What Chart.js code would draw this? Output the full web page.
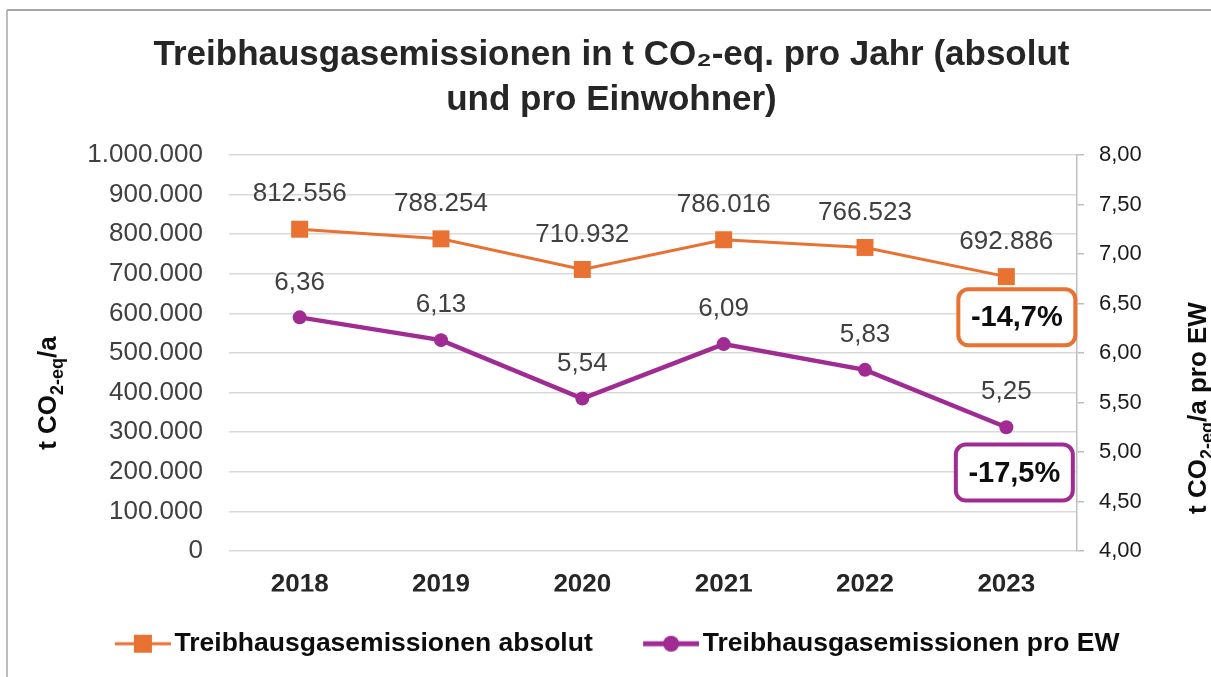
<!DOCTYPE html>
<html lang="de">
<head>
<meta charset="utf-8">
<title>Treibhausgasemissionen</title>
<script src="https://cdn.jsdelivr.net/npm/chart.js@4.4.1/dist/chart.umd.min.js"></script>
<style>
  html, body { margin: 0; padding: 0; background: #ffffff; }
  #wrap { position: relative; width: 1211px; height: 677px; }
</style>
</head>
<body>
<div id="wrap"><canvas id="c"></canvas></div>
<script>
// ---- data ----
const years = ['2018', '2019', '2020', '2021', '2022', '2023'];
const absolut = [812556, 788254, 710932, 786016, 766523, 692886];
const proEW = [6.36, 6.13, 5.54, 6.09, 5.83, 5.25];
const seriesNames = ['Treibhausgasemissionen absolut', 'Treibhausgasemissionen pro EW'];
const changeLabels = ['-14,7%', '-17,5%'];
const titleLines = ['Treibhausgasemissionen in t CO\u2082-eq. pro Jahr (absolut', 'und pro Einwohner)'];
const leftAxisTitle = [['t CO', false], ['2-eq', true], ['/a', false]];
const rightAxisTitle = [['t CO', false], ['2-eq', true], ['/a pro EW', false]];

// ---- styles ----
const FONT = "'Liberation Sans', Arial, sans-serif";
const ORANGE = '#E97132';
const PURPLE = '#A02B93';

function fmtThousands(v) {
  const s = Math.round(v).toString();
  return s.replace(/\B(?=(\d{3})+(?!\d))/g, '.');
}
function fmtDec(v) { return v.toFixed(2).replace('.', ','); }

// legend icons: line with marker (transparent margin on the left)
function makeIcon(color, lw, marker) {
  const off = 21;
  const cv = document.createElement('canvas');
  cv.width = 56 + off; cv.height = 22;
  const c = cv.getContext('2d');
  c.strokeStyle = color; c.lineWidth = lw;
  c.beginPath(); c.moveTo(off, 11); c.lineTo(off + 56, 11); c.stroke();
  c.fillStyle = color;
  if (marker === 'rect') { c.fillRect(off + 28 - 9, 11 - 9, 18, 18); }
  else { c.beginPath(); c.arc(off + 28, 11, 8, 0, Math.PI * 2); c.fill(); }
  return cv;
}
const legendIcons = [makeIcon(ORANGE, 3, 'rect'), makeIcon(PURPLE, 5, 'circle')];

function drawParts(ctx, parts, size, subSize) {
  let total = 0;
  const widths = parts.map(([t, sub]) => {
    ctx.font = 'bold ' + (sub ? subSize : size) + 'px ' + FONT;
    const w = ctx.measureText(t).width; total += w; return w;
  });
  let x = -total / 2;
  const base = size * 0.36;
  parts.forEach(([t, sub], i) => {
    ctx.font = 'bold ' + (sub ? subSize : size) + 'px ' + FONT;
    ctx.fillText(t, x, sub ? base + size * 0.25 : base);
    x += widths[i];
  });
}

const decorPlugin = {
  id: 'decor',
  beforeDraw(chart) {
    const ctx = chart.ctx;
    ctx.save();
    ctx.fillStyle = '#ffffff';
    ctx.fillRect(0, 0, chart.width, chart.height);
    ctx.strokeStyle = '#a6a6a6';
    ctx.lineWidth = 2;
    ctx.beginPath(); ctx.moveTo(7, 10); ctx.lineTo(chart.width, 10); ctx.stroke();
    ctx.lineWidth = 1.5;
    ctx.beginPath(); ctx.moveTo(7, 10); ctx.lineTo(7, chart.height); ctx.stroke();
    ctx.restore();
  },
  afterDatasetsDraw(chart) {
    const ctx = chart.ctx;
    ctx.save();
    ctx.font = '26px ' + FONT;
    ctx.fillStyle = '#404040';
    ctx.textAlign = 'center';
    ctx.textBaseline = 'middle';
    chart.data.datasets.forEach((ds, di) => {
      const meta = chart.getDatasetMeta(di);
      meta.data.forEach((pt, i) => {
        const txt = di === 0 ? fmtThousands(ds.data[i]) : fmtDec(ds.data[i]);
        ctx.fillText(txt, pt.x, pt.y - 35);
      });
    });
    ctx.restore();
  },
  afterDraw(chart) {
    const ctx = chart.ctx;
    const a = chart.chartArea;
    const xs = chart.scales.x;
    const yL = chart.scales.y;
    const lastX = xs.getPixelForValue(years.length - 1);
    // change boxes
    const boxes = [
      { cy: yL.getPixelForValue(590000), color: ORANGE, text: changeLabels[0] },
      { cy: yL.getPixelForValue(198000), color: PURPLE, text: changeLabels[1] }
    ];
    ctx.save();
    boxes.forEach((b, i) => {
      const w = 117, h = 56;
      const cx = lastX + (i === 0 ? 10.5 : 8);
      ctx.lineWidth = 4;
      ctx.strokeStyle = b.color;
      ctx.fillStyle = '#ffffff';
      ctx.beginPath();
      ctx.roundRect(cx - w / 2, b.cy - h / 2, w, h, 10);
      ctx.fill();
      ctx.stroke();
      ctx.fillStyle = '#0d0d0d';
      ctx.font = 'bold 29px ' + FONT;
      ctx.textAlign = 'center';
      ctx.textBaseline = 'middle';
      ctx.fillText(b.text, cx, b.cy + 1);
    });
    // axis titles
    ctx.fillStyle = '#0d0d0d';
    ctx.textAlign = 'left';
    ctx.textBaseline = 'alphabetic';
    ctx.save();
    ctx.translate(47, (a.top + a.bottom) / 2 + 40);
    ctx.rotate(-Math.PI / 2);
    drawParts(ctx, leftAxisTitle, 26, 18);
    ctx.restore();
    ctx.save();
    ctx.translate(1197, (a.top + a.bottom) / 2 + 55);
    ctx.rotate(-Math.PI / 2);
    drawParts(ctx, rightAxisTitle, 26, 18);
    ctx.restore();
    ctx.restore();
  }
};

new Chart(document.getElementById('c'), {
  type: 'line',
  data: {
    labels: years,
    datasets: [
      {
        label: seriesNames[0],
        data: absolut,
        yAxisID: 'y',
        borderColor: ORANGE,
        backgroundColor: ORANGE,
        borderWidth: 3,
        pointStyle: 'rect',
        pointRadius: 12,
        pointHoverRadius: 12,
        pointBorderWidth: 0,
        tension: 0
      },
      {
        label: seriesNames[1],
        data: proEW,
        yAxisID: 'y1',
        borderColor: PURPLE,
        backgroundColor: PURPLE,
        borderWidth: 4.5,
        pointStyle: 'circle',
        pointRadius: 7,
        pointHoverRadius: 7,
        pointBorderWidth: 0,
        tension: 0
      }
    ]
  },
  options: {
    responsive: true,
    maintainAspectRatio: false,
    animation: false,
    layout: { padding: { left: 12, right: 0, top: 0, bottom: 10 } },
    plugins: {
      title: {
        display: true,
        text: titleLines,
        color: '#262626',
        font: { family: FONT, size: 35, weight: 'bold', lineHeight: 1.2857 },
        padding: { top: 32.5, bottom: 32.5 }
      },
      legend: {
        display: true,
        position: 'bottom',
        labels: {
          usePointStyle: true,
          pointStyleWidth: 57.75,
          padding: 39,
          color: '#0d0d0d',
          font: { family: FONT, size: 26.5, weight: 'bold' },
          generateLabels(chart) {
            const items = Chart.defaults.plugins.legend.labels.generateLabels(chart);
            items.forEach((it, i) => { it.pointStyle = legendIcons[i]; it.fontColor = '#0d0d0d'; });
            return items;
          }
        }
      },
      tooltip: { enabled: false }
    },
    scales: {
      x: {
        offset: true,
        afterFit(scale) { scale.height = 40.5; },
        grid: { display: false },
        border: { display: false },
        ticks: {
          color: '#262626',
          padding: 10,
          font: { family: FONT, size: 26, weight: 'bold' }
        }
      },
      y: {
        position: 'left',
        min: 0,
        max: 1000000,
        afterFit(scale) { scale.width = 217; },
        grid: { color: '#d9d9d9', lineWidth: 1.5, drawTicks: false },
        border: { display: false },
        ticks: {
          stepSize: 100000,
          padding: 26,
          color: '#404040',
          font: { family: FONT, size: 26 },
          callback: (v) => fmtThousands(v)
        }
      },
      y1: {
        position: 'right',
        min: 4,
        max: 8,
        afterFit(scale) { scale.width = 134; },
        grid: { drawOnChartArea: false, drawTicks: true, tickLength: 7, color: '#bfbfbf', lineWidth: 1.5 },
        border: { display: true, color: '#bfbfbf', width: 1.5 },
        ticks: {
          stepSize: 0.5,
          padding: 15,
          color: '#1a1a1a',
          font: { family: FONT, size: 22 },
          callback: (v) => fmtDec(v)
        }
      }
    }
  },
  plugins: [decorPlugin]
});
</script>
</body>
</html>
